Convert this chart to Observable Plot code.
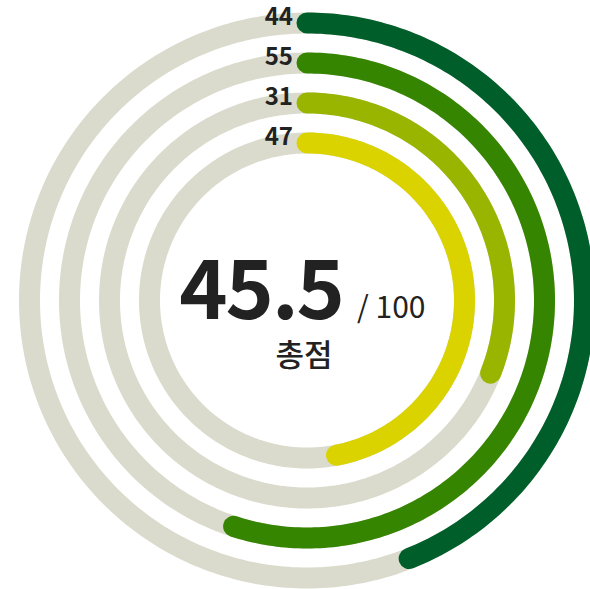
<!DOCTYPE html>
<html>
<head>
<meta charset="utf-8">
<script src="https://cdn.jsdelivr.net/npm/d3@7"></script>
<script src="https://cdn.jsdelivr.net/npm/@observablehq/plot@0.6"></script>
<style>
  html, body { margin: 0; padding: 0; background: #fff; }
  #chart svg { display: block; }
</style>
</head>
<body>
<div id="chart"></div>
<script>
// ---- data ----
const values = [44, 55, 31, 47];            // outer → inner ring
const maxValue = 100;
const ringColors = ["#005e2b", "#368500", "#99b500", "#dbd300"];
const trackColor = "#dadbcc";
const score = "45.5";
const scoreMax = "/ 100";
const scoreLabel = "총점";

// ---- layout ----
const W = 590, H = 589;
const cx = 306.5, cy = 300;
const radii = [277.5, 237.5, 197.5, 157.5];
const band = 21;

function arcPoints(ring, r, fraction) {
  const end = fraction * 360;
  const pts = [];
  for (let d = 0; d < end; d += 1) pts.push(d);
  pts.push(end);
  return pts.map(d => {
    const a = d * Math.PI / 180;
    return {ring, x: r * Math.sin(a), y: -r * Math.cos(a)};
  });
}

const tracks = radii.flatMap((r, i) => arcPoints(i, r, 1));
const arcs = values.flatMap((v, i) => arcPoints(i, radii[i], v / maxValue));
const labels = values.map((v, i) => ({value: v, x: 0, y: -radii[i]}));
const center = [{x: 0, y: 0}];

const chart = Plot.plot({
  width: W,
  height: H,
  margin: 0,
  style: {background: "#fff", fontFamily: "'Noto Sans CJK KR', 'Noto Sans', sans-serif"},
  x: {domain: [-cx, W - cx], range: [0, W], axis: null},
  y: {domain: [-cy, H - cy], range: [0, H], axis: null},
  color: {domain: d3.range(values.length), range: ringColors},
  marks: [
    Plot.line(tracks, {x: "x", y: "y", z: "ring", stroke: trackColor, strokeWidth: band, strokeLinecap: "round"}),
    Plot.line(arcs, {x: "x", y: "y", z: "ring", stroke: "ring", strokeWidth: band, strokeLinecap: "round", strokeLinejoin: "round"}),
    Plot.text(labels, {x: "x", y: "y", text: d => String(d.value), textAnchor: "end", lineAnchor: "bottom", dx: -14, dy: 2, fontSize: 24, fontWeight: 700, fill: "#222"}),
    Plot.text(center, {x: "x", y: "y", text: () => score, textAnchor: "end", lineAnchor: "bottom", dx: 36, dy: 18.5, fontSize: 82, fontWeight: 700, fill: "#222"}),
    Plot.text(center, {x: "x", y: "y", text: () => scoreMax, textAnchor: "start", lineAnchor: "bottom", dx: 50, dy: 17, fontSize: 30, fontWeight: 400, fill: "#222"}),
    Plot.text(center, {x: "x", y: "y", text: () => scoreLabel, textAnchor: "middle", lineAnchor: "bottom", dx: -3, dy: 65, fontSize: 31, fontWeight: 500, fill: "#222"})
  ]
});
d3.select(chart).selectAll("text").filter(function() { return this.textContent === score; })
  .attr("letter-spacing", "-2px");
document.getElementById("chart").appendChild(chart);
</script>
</body>
</html>
